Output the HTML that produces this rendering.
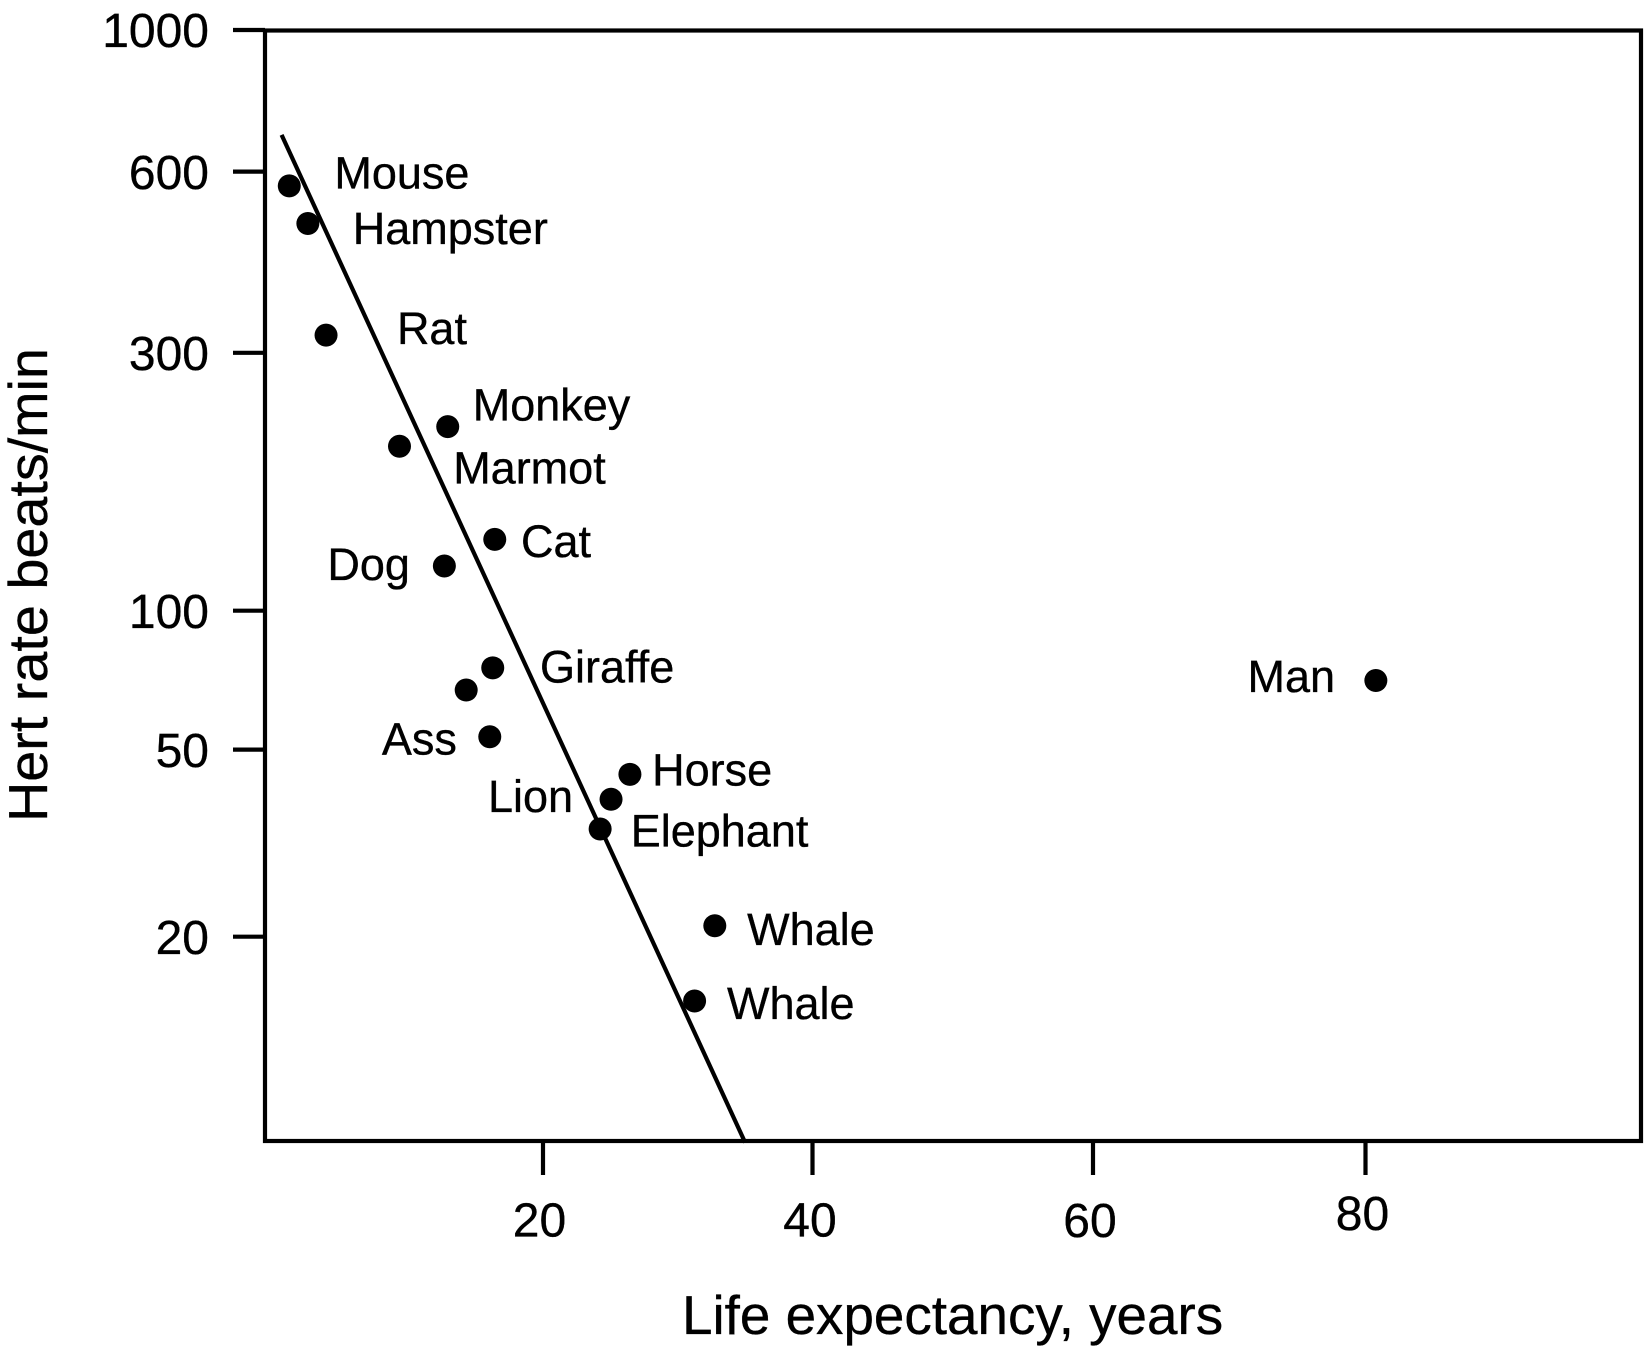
<!DOCTYPE html>
<html lang="en">
<head>
<meta charset="utf-8">
<title>Heart rate versus life expectancy</title>
<style>
  html, body { margin: 0; padding: 0; background: #ffffff; }
  body { width: 1646px; height: 1347px; overflow: hidden; }
  svg { display: block; }
  text { font-family: "Liberation Sans", Arial, sans-serif; fill: #000000; stroke: #000000; stroke-width: 0.35px; }
  .tick-label { font-size: 48px; }
  .point-label { font-size: 45px; }
  .axis-title { font-size: 54.8px; }
</style>
</head>
<body>
<svg id="chart" xmlns="http://www.w3.org/2000/svg" width="1646" height="1347" viewBox="0 0 1646 1347">
  <rect x="0" y="0" width="1646" height="1347" fill="#ffffff"/>
  <g id="ticks"></g>
  <g id="trend"></g>
  <g id="points"></g>
  <g id="labels"></g>
  <rect x="265" y="30.5" width="1376" height="1110.5" fill="none" stroke="#000" stroke-width="4.2"/>
  <text class="axis-title" x="682" y="1334">Life expectancy, years</text>
  <text class="axis-title" transform="translate(47 822) rotate(-90)" textLength="474" lengthAdjust="spacingAndGlyphs">Hert rate beats/min</text>
</svg>
<script>
const animals = ["Mouse", "Hampster", "Rat", "Monkey", "Marmot", "Cat", "Dog", "Giraffe", "", "Ass", "Horse", "Lion", "Elephant", "Whale", "Whale", "Man"];
const lifeYears = [1.17, 2.55, 3.9, 12.93, 9.35, 16.42, 12.68, 16.27, 14.3, 16.05, 26.45, 25.05, 24.24, 32.75, 31.25, 80.76];
const heartRates = [568, 492, 321, 219, 201.5, 135.5, 121, 75.2, 67.3, 53.3, 44.3, 39.2, 33.9, 21.1, 14.6, 70.6];
const trendYears = [0.6, 35];
const trendRates = [685, 7.3];
const xTickValues = [20, 40, 60, 80];
const yTickValues = [1000, 600, 300, 100, 50, 20];

function interpolate(value, knots) {
  let i = 0;
  while (i < knots.length - 2 && value > knots[i + 1][0]) i++;
  const a = knots[i], b = knots[i + 1];
  return a[1] + (value - a[0]) * (b[1] - a[1]) / (b[0] - a[0]);
}
function xScale(years) {
  return interpolate(years, [[20, 543], [40, 812.5], [60, 1093], [80, 1365.5]]);
}
function yScale(rate) {
  const knots = [[Math.log10(20), 936.7], [Math.log10(50), 749.6], [Math.log10(100), 610.7], [Math.log10(300), 352.8], [Math.log10(600), 171.6], [3, 30]];
  return interpolate(Math.log10(rate), knots);
}

const NS = "http://www.w3.org/2000/svg";
function make(tag, parentId, props) {
  const el = document.createElementNS(NS, tag);
  for (const key in props) el.setAttribute(key, props[key]);
  document.getElementById(parentId).appendChild(el);
  return el;
}

function drawAxes() {
  const xLabelDx = [-3.5, -2.5, -3, -3];
  const xLabelDy = [1236.5, 1236.5, 1237, 1230];
  xTickValues.forEach(function (value, i) {
    const px = xScale(value);
    const tick = make("line", "ticks", { x1: px, x2: px, y1: 1141, y2: 1175, stroke: "#000", "stroke-width": 4.2 });
    
    
    const label = make("text", "ticks", { class: "tick-label", x: px + xLabelDx[i], y: xLabelDy[i], "text-anchor": "middle" });
    label.textContent = String(value);
    
    
  });
  yTickValues.forEach(function (value) {
    const py = yScale(value);
    const tick = make("line", "ticks", { x1: 233, x2: 265, y1: py, y2: py, stroke: "#000", "stroke-width": 4.2 });
    
    
    const label = make("text", "ticks", { class: "tick-label", x: 209, y: py + 17.2, "text-anchor": "end" });
    label.textContent = String(value);
    
    
  });
}

function drawTrend() {
  const d = trendYears.map(function (v, i) {
    return (i ? "L" : "M") + xScale(v) + " " + yScale(trendRates[i]);
  }).join(" ");
  const path = make("path", "trend", { d: d, fill: "none", stroke: "#000", "stroke-width": 4.2 });
  
  
}

function drawPoints() {
  const labelDx = [45.1, 44.9, 70.9, 25, 53.7, 26.2, -117, 47.3, 0, -107.9, 22.2, -123.1, 30.6, 32.3, 32.4, -128.4];
  const labelDy = [2.6, 20.3, 9, -6.2, 37.4, 17.4, 14, 14.6, 0, 17.7, 11.2, 12.7, 17.4, 19.4, 18, 11.7];
  animals.forEach(function (name, i) {
    const cx = xScale(lifeYears[i]);
    const cy = yScale(heartRates[i]);
    const dot = make("circle", "points", { cx: cx, cy: cy, r: 11.5, fill: "#000" });
    
    
    if (name) {
      const label = make("text", "labels", { class: "point-label", x: cx + labelDx[i], y: cy + labelDy[i] });
      label.textContent = name;
      
      
    }
  });
}

drawAxes();
drawTrend();
drawPoints();
</script>
</body>
</html>
